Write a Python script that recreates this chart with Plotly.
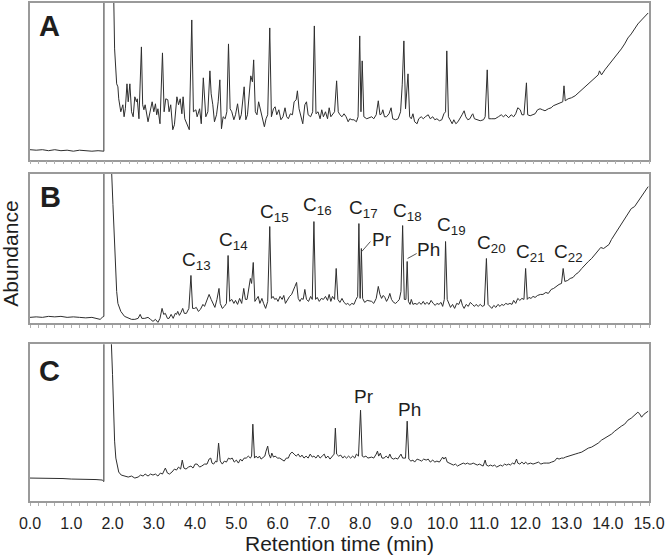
import plotly.graph_objects as go

# Chromatogram traces: (retention time in min, abundance in arbitrary units)
trace_A = [
    (0.00, 10), (0.15, 9.5), (0.30, 10), (0.45, 9), (0.60, 10), (0.75, 9), (0.90, 9.5), (1.05, 8.5),
    (1.20, 9.5), (1.35, 9), (1.50, 8.5), (1.65, 9), (1.79, 8.5),
    (1.80, 900), (2.00, 900), (2.03, 160), (2.05, 111), (2.10, 76), (2.13, 73), (2.15, 61), (2.20, 48),
    (2.25, 55), (2.28, 43), (2.31, 51), (2.35, 76), (2.38, 58), (2.42, 76), (2.46, 48), (2.50, 43),
    (2.54, 63), (2.58, 58), (2.60, 61), (2.64, 41), (2.70, 113), (2.73, 55), (2.76, 50), (2.79, 55),
    (2.86, 38), (2.91, 48), (2.96, 58), (3.00, 48), (3.04, 56), (3.07, 45), (3.10, 51), (3.15, 36),
    (3.21, 107), (3.25, 48), (3.29, 61), (3.34, 60), (3.37, 48), (3.41, 55), (3.46, 30), (3.50, 35),
    (3.56, 63), (3.60, 55), (3.64, 61), (3.68, 46), (3.71, 63), (3.75, 41), (3.81, 35), (3.86, 30),
    (3.92, 140), (3.96, 48), (4.02, 50), (4.05, 43), (4.11, 51), (4.15, 36), (4.20, 82), (4.26, 43),
    (4.31, 48), (4.36, 89), (4.39, 66), (4.43, 55), (4.47, 38), (4.52, 45), (4.56, 58), (4.60, 80),
    (4.64, 31), (4.68, 43), (4.73, 41), (4.77, 48), (4.81, 116), (4.85, 51), (4.89, 48), (4.94, 40),
    (4.98, 45), (5.03, 56), (5.08, 40), (5.12, 45), (5.19, 73), (5.23, 40), (5.27, 45), (5.32, 76),
    (5.35, 84), (5.39, 78), (5.42, 100), (5.46, 48), (5.50, 45), (5.54, 58), (5.58, 51), (5.63, 41),
    (5.68, 33), (5.72, 41), (5.76, 45), (5.81, 132), (5.85, 43), (5.90, 51), (5.94, 53), (5.98, 45),
    (6.03, 50), (6.08, 40), (6.13, 43), (6.18, 52), (6.22, 43), (6.26, 41), (6.31, 46), (6.36, 45),
    (6.40, 58), (6.45, 60), (6.48, 69), (6.52, 51), (6.56, 43), (6.61, 36), (6.66, 55), (6.70, 58),
    (6.74, 45), (6.80, 43), (6.85, 48), (6.89, 134), (6.93, 46), (6.98, 48), (7.03, 41), (7.07, 50),
    (7.11, 43), (7.16, 48), (7.21, 41), (7.25, 52), (7.29, 43), (7.33, 45), (7.38, 48), (7.43, 79),
    (7.47, 48), (7.51, 45), (7.56, 43), (7.61, 46), (7.66, 43), (7.71, 38), (7.75, 41), (7.80, 40),
    (7.85, 40), (7.91, 38), (7.95, 43), (7.99, 124), (8.02, 48), (8.05, 99), (8.09, 43), (8.16, 41),
    (8.28, 43), (8.33, 41), (8.39, 45), (8.44, 59), (8.48, 45), (8.52, 46), (8.55, 50), (8.59, 43),
    (8.64, 43), (8.70, 46), (8.75, 52), (8.79, 41), (8.86, 40), (8.92, 41), (8.98, 48), (9.02, 75),
    (9.06, 119), (9.10, 51), (9.16, 86), (9.20, 43), (9.24, 41), (9.28, 46), (9.32, 38), (9.38, 36),
    (9.42, 41), (9.48, 43), (9.53, 41), (9.58, 43), (9.65, 45), (9.70, 41), (9.76, 43), (9.81, 40),
    (9.86, 41), (9.92, 39), (9.98, 40), (10.03, 46), (10.07, 48), (10.10, 109), (10.14, 43), (10.18, 40),
    (10.23, 36), (10.27, 40), (10.32, 36), (10.37, 38), (10.42, 41), (10.47, 45), (10.52, 49), (10.56, 43),
    (10.61, 40), (10.66, 41), (10.71, 45), (10.73, 46), (10.77, 41), (10.84, 40), (10.91, 39), (10.99, 40),
    (11.03, 43), (11.08, 90), (11.12, 41), (11.19, 41), (11.27, 41), (11.35, 43), (11.42, 45), (11.47, 43),
    (11.53, 45), (11.60, 42), (11.66, 45), (11.72, 43), (11.77, 46), (11.82, 52), (11.88, 50), (11.92, 45),
    (11.97, 45), (12.03, 77), (12.06, 45), (12.12, 44), (12.17, 45), (12.24, 46), (12.30, 50), (12.36, 51),
    (12.42, 50), (12.48, 49), (12.56, 51), (12.63, 52), (12.68, 54), (12.74, 55), (12.80, 56), (12.87, 57),
    (12.91, 58), (12.94, 74), (12.97, 59), (13.04, 61), (13.12, 62), (13.21, 64), (13.29, 67), (13.37, 70),
    (13.45, 72), (13.53, 75), (13.61, 78), (13.69, 82), (13.77, 85), (13.80, 89), (13.85, 85), (13.93, 90),
    (14.01, 94), (14.09, 99), (14.17, 102), (14.25, 106), (14.33, 111), (14.41, 116), (14.49, 122),
    (14.57, 126), (14.65, 131), (14.73, 136), (14.82, 140), (14.90, 144), (14.98, 147),
]

trace_B = [
    (0.00, 6), (0.15, 6.5), (0.30, 6), (0.45, 7), (0.60, 6.5), (0.75, 7), (0.90, 6), (1.05, 6.5),
    (1.20, 6), (1.35, 5.5), (1.50, 6), (1.60, 5), (1.70, 4), (1.75, 6), (1.79, 7),
    (1.80, 900), (1.95, 900), (1.97, 160), (2.01, 119), (2.04, 85), (2.07, 52), (2.10, 32), (2.13, 20),
    (2.20, 12), (2.29, 7), (2.46, 4), (2.54, 4), (2.62, 5), (2.67, 9), (2.71, 5), (2.78, 5), (2.86, 6),
    (2.92, 4), (2.98, 2), (3.04, 4), (3.10, 1), (3.15, 5), (3.20, 15), (3.24, 9), (3.28, 10), (3.33, 5),
    (3.37, 5), (3.42, 9), (3.47, 5), (3.52, 10), (3.55, 9), (3.58, 12), (3.62, 8), (3.66, 11), (3.70, 15),
    (3.74, 10), (3.79, 10), (3.85, 15), (3.90, 48), (3.94, 15), (3.99, 15), (4.03, 16), (4.08, 12),
    (4.13, 14), (4.19, 19), (4.23, 17), (4.28, 22), (4.34, 29), (4.39, 24), (4.44, 19), (4.48, 16),
    (4.53, 24), (4.58, 35), (4.61, 20), (4.66, 15), (4.71, 17), (4.76, 20), (4.80, 68), (4.84, 22),
    (4.89, 24), (4.94, 20), (4.98, 23), (5.03, 19), (5.08, 25), (5.13, 20), (5.18, 35), (5.22, 24),
    (5.26, 24), (5.31, 37), (5.34, 45), (5.37, 40), (5.41, 61), (5.45, 22), (5.49, 25), (5.53, 27),
    (5.57, 20), (5.62, 25), (5.66, 20), (5.71, 15), (5.76, 22), (5.81, 97), (5.85, 25), (5.89, 27),
    (5.93, 24), (5.97, 25), (6.01, 22), (6.06, 27), (6.11, 24), (6.15, 28), (6.19, 20), (6.24, 24),
    (6.29, 27), (6.34, 29), (6.38, 34), (6.42, 37), (6.46, 41), (6.50, 25), (6.54, 22), (6.58, 25),
    (6.62, 24), (6.66, 34), (6.70, 24), (6.75, 22), (6.80, 27), (6.84, 24), (6.88, 102), (6.92, 24),
    (6.96, 26), (7.01, 22), (7.06, 25), (7.11, 24), (7.16, 27), (7.21, 23), (7.25, 29), (7.29, 22),
    (7.33, 27), (7.38, 24), (7.42, 55), (7.46, 24), (7.51, 21), (7.56, 25), (7.61, 21), (7.66, 19),
    (7.70, 20), (7.75, 18), (7.80, 20), (7.85, 19), (7.90, 24), (7.94, 27), (7.97, 100), (8.00, 25),
    (8.03, 75), (8.06, 25), (8.11, 21), (8.17, 23),
    (8.28, 22), (8.33, 20), (8.39, 25), (8.44, 37), (8.48, 29), (8.52, 25), (8.56, 28), (8.60, 26),
    (8.64, 22), (8.68, 25), (8.72, 30), (8.76, 24), (8.81, 21), (8.86, 20), (8.91, 22), (8.95, 24),
    (8.99, 32), (9.03, 98), (9.07, 24), (9.11, 24), (9.14, 62), (9.17, 22), (9.21, 19), (9.24, 24),
    (9.28, 19), (9.33, 20), (9.38, 19), (9.43, 21), (9.48, 19), (9.53, 22), (9.57, 19), (9.62, 21),
    (9.67, 19), (9.72, 23), (9.77, 20), (9.82, 18), (9.86, 20), (9.91, 19), (9.96, 21), (10.00, 17),
    (10.04, 24), (10.07, 82), (10.11, 24), (10.15, 20), (10.19, 16), (10.24, 19), (10.29, 15), (10.34, 20),
    (10.39, 19), (10.44, 24), (10.48, 18), (10.52, 15), (10.57, 19), (10.62, 17), (10.67, 21), (10.72, 19),
    (10.77, 17), (10.81, 19), (10.86, 17), (10.91, 19), (10.96, 17), (11.01, 18), (11.06, 65), (11.10, 19),
    (11.14, 17), (11.19, 15), (11.24, 18), (11.29, 16), (11.34, 19), (11.39, 17), (11.43, 19), (11.48, 18),
    (11.53, 20), (11.58, 19), (11.63, 20), (11.68, 19), (11.72, 23), (11.77, 20), (11.82, 25), (11.87, 23),
    (11.92, 25), (11.97, 24), (12.01, 55), (12.05, 24), (12.09, 26), (12.14, 25), (12.19, 27), (12.24, 26),
    (12.30, 28), (12.37, 29), (12.43, 29), (12.50, 31), (12.56, 30), (12.63, 34), (12.69, 35), (12.75, 37),
    (12.82, 39), (12.88, 40), (12.92, 55), (12.96, 42), (13.03, 43), (13.09, 45), (13.16, 46), (13.22, 49),
    (13.29, 51), (13.37, 55), (13.45, 59), (13.53, 62), (13.61, 65), (13.69, 69), (13.77, 73), (13.83, 76),
    (13.90, 75), (13.96, 77), (14.03, 79), (14.09, 84), (14.17, 89), (14.25, 94), (14.33, 99), (14.41, 104),
    (14.49, 109), (14.57, 115), (14.65, 117), (14.73, 122), (14.82, 127), (14.90, 132), (14.98, 137),
]

trace_C = [
    (0.00, 23), (0.20, 23), (0.40, 22.5), (0.60, 23), (0.80, 22.5), (1.00, 22), (1.20, 22), (1.40, 21.5),
    (1.60, 21.5), (1.75, 21), (1.79, 19.5),
    (1.80, 900), (1.95, 900), (1.97, 160), (2.00, 127), (2.02, 93), (2.05, 60), (2.08, 43), (2.11, 35),
    (2.15, 29), (2.21, 26), (2.29, 25), (2.38, 24), (2.46, 25), (2.54, 23), (2.62, 24), (2.68, 26),
    (2.74, 25), (2.79, 27), (2.86, 25), (2.92, 27), (2.98, 26), (3.04, 27), (3.10, 25), (3.16, 28),
    (3.21, 27), (3.28, 33), (3.33, 28), (3.38, 27), (3.44, 29), (3.50, 32), (3.55, 31), (3.60, 34),
    (3.65, 32), (3.69, 41), (3.73, 33), (3.78, 32), (3.84, 34), (3.90, 35), (3.95, 33), (4.00, 37),
    (4.05, 37), (4.11, 34), (4.16, 35), (4.23, 37), (4.29, 37), (4.34, 42), (4.38, 43), (4.41, 38),
    (4.45, 37), (4.50, 40), (4.53, 39), (4.57, 58), (4.61, 40), (4.66, 37), (4.71, 40), (4.76, 39),
    (4.81, 43), (4.85, 42), (4.90, 43), (4.95, 39), (5.00, 41), (5.05, 38), (5.10, 42), (5.14, 40),
    (5.19, 43), (5.24, 43), (5.29, 45), (5.34, 43), (5.37, 45), (5.40, 77), (5.44, 43), (5.48, 45),
    (5.52, 43), (5.56, 45), (5.60, 42), (5.64, 43), (5.69, 45), (5.72, 50), (5.76, 55), (5.79, 47),
    (5.83, 43), (5.86, 48), (5.90, 44), (5.94, 45), (6.00, 43), (6.05, 43), (6.09, 42), (6.16, 40),
    (6.21, 43), (6.26, 43), (6.30, 47), (6.35, 49), (6.40, 47), (6.45, 45), (6.50, 47), (6.55, 44),
    (6.59, 46), (6.64, 43), (6.69, 45), (6.74, 43), (6.79, 47), (6.84, 44), (6.88, 45), (6.93, 43),
    (6.98, 46), (7.03, 43), (7.08, 45), (7.13, 47), (7.17, 43), (7.22, 45), (7.27, 42), (7.32, 44),
    (7.37, 47), (7.40, 73), (7.43, 47), (7.48, 45), (7.53, 46), (7.58, 43), (7.62, 45), (7.67, 43),
    (7.72, 45), (7.77, 43), (7.82, 45), (7.87, 43), (7.91, 47), (7.96, 45), (8.01, 91), (8.05, 45),
    (8.09, 44), (8.14, 45), (8.19, 43),
    (8.28, 44), (8.33, 43), (8.39, 47), (8.42, 50), (8.45, 45), (8.49, 48), (8.53, 43), (8.58, 43),
    (8.63, 45), (8.68, 43), (8.72, 47), (8.76, 43), (8.81, 42), (8.86, 43), (8.91, 42), (8.95, 44),
    (8.99, 47), (9.03, 43), (9.06, 43), (9.10, 43), (9.14, 80), (9.18, 42), (9.23, 40), (9.28, 41),
    (9.32, 39), (9.38, 42), (9.44, 41), (9.49, 40), (9.54, 42), (9.60, 41), (9.65, 42), (9.70, 39),
    (9.76, 41), (9.81, 39), (9.86, 40), (9.92, 39), (9.97, 42), (10.00, 44), (10.03, 42), (10.07, 44),
    (10.11, 39), (10.16, 38), (10.21, 37), (10.26, 36), (10.31, 37), (10.36, 35), (10.40, 36), (10.45, 37),
    (10.50, 38), (10.55, 37), (10.60, 38), (10.64, 37), (10.69, 37), (10.74, 38), (10.79, 37), (10.84, 36),
    (10.89, 37), (10.93, 36), (10.98, 35), (11.03, 41), (11.06, 36), (11.11, 35), (11.16, 36), (11.21, 35),
    (11.26, 36), (11.31, 34), (11.35, 35), (11.40, 36), (11.45, 35), (11.50, 37), (11.55, 36), (11.60, 37),
    (11.64, 36), (11.69, 38), (11.74, 37), (11.79, 42), (11.82, 38), (11.87, 37), (11.92, 39), (11.97, 37),
    (12.01, 39), (12.06, 37), (12.13, 38), (12.19, 37), (12.26, 38), (12.32, 39), (12.38, 37), (12.45, 38),
    (12.51, 38), (12.58, 38), (12.64, 39), (12.71, 40), (12.77, 43), (12.82, 42), (12.88, 43), (12.93, 43),
    (12.98, 44), (13.04, 45), (13.12, 46), (13.21, 47), (13.29, 48), (13.37, 49), (13.45, 51), (13.53, 53),
    (13.61, 54), (13.69, 56), (13.77, 58), (13.85, 61), (13.93, 63), (14.01, 65), (14.09, 67), (14.17, 70),
    (14.25, 73), (14.33, 75), (14.41, 77), (14.49, 81), (14.57, 83), (14.65, 86), (14.73, 89), (14.78, 87),
    (14.82, 84), (14.88, 87), (14.98, 90),
]

panel_letters = ["A", "B", "C"]
x_ticks = [0, 1, 2, 3, 4, 5, 6, 7, 8, 9, 10, 11, 12, 13, 14, 15]

# Peak labels in panel B: (text, time, abundance)
labels_B = [
    ("C<sub>13</sub>", 4.03, 62), ("C<sub>14</sub>", 4.92, 83), ("C<sub>15</sub>", 5.93, 111),
    ("C<sub>16</sub>", 6.96, 118), ("C<sub>17</sub>", 8.09, 115), ("Pr", 8.54, 84),
    ("C<sub>18</sub>", 9.14, 112), ("Ph", 9.66, 74), ("C<sub>19</sub>", 10.21, 98),
    ("C<sub>20</sub>", 11.18, 80), ("C<sub>21</sub>", 12.13, 71), ("C<sub>22</sub>", 13.06, 71),
]
labels_C = [("Pr", 8.09, 105), ("Ph", 9.20, 92)]
leaders_B = [((8.04, 72), (8.25, 82)), ((9.15, 65), (9.37, 70))]

FONT = "Arial, Liberation Sans, sans-serif"
LINE = "#2e2e2e"
BORDER = "#9a9a9a"
TEXT = "#1e1e1e"

fig = go.Figure()
traces = [trace_A, trace_B, trace_C]
suffix = ["", "2", "3"]
for pts, s in zip(traces, suffix):
    fig.add_trace(go.Scatter(
        x=[p[0] for p in pts], y=[p[1] for p in pts], mode="lines",
        line=dict(color=LINE, width=1), xaxis="x" + s, yaxis="y" + s,
        showlegend=False, hoverinfo="skip"))

domains = [[0.6854, 1.0], [0.3567, 0.6573], [0.0, 0.3146]]
yranges = [[0, 157], [0, 150], [0, 157]]

layout = dict(
    width=666, height=557, paper_bgcolor="white", plot_bgcolor="white",
    margin=dict(l=30, r=15, t=1, b=56),
    font=dict(family=FONT, color=TEXT),
    showlegend=False,
)
for i, s in enumerate(suffix):
    xa = dict(
        domain=[0, 1], range=[0, 15], anchor="y" + s, showgrid=False, zeroline=False,
        showline=True, mirror=True, linecolor=BORDER, linewidth=1.5,
        ticks="outside", ticklen=3, tickwidth=1, tickcolor="#b0b0b0",
        tickvals=x_ticks, tickformat=".1f", ticklabelstandoff=4, ticklabeloverflow="allow",
        minor=dict(dtick=0.2, tick0=0, ticks="outside", ticklen=3, tickwidth=1, tickcolor="#b0b0b0"),
        showticklabels=(i == 2), tickfont=dict(size=16, color=TEXT, family=FONT),
    )
    if i == 2:
        xa["title"] = dict(text="Retention time (min)", font=dict(size=21, color=TEXT, family=FONT), standoff=4)
    ya = dict(
        domain=domains[i], range=yranges[i], anchor="x" + s, showgrid=False, zeroline=False,
        showline=True, mirror=True, linecolor=BORDER, linewidth=1.5,
        ticks="", showticklabels=False,
    )
    layout["xaxis" + s] = xa
    layout["yaxis" + s] = ya

annotations = []
letter_pos = [(0.47, 134), (0.50, 127), (0.47, 130)]
for letter, (tx, hy), s in zip(panel_letters, letter_pos, suffix):
    annotations.append(dict(text=letter, x=tx, y=hy, xref="x" + s, yref="y" + s, showarrow=False,
                            xanchor="center", yanchor="middle",
                            font=dict(size=29, family=FONT, color=TEXT, weight="bold")))
for txt, tx, hy in labels_B:
    annotations.append(dict(text=txt, x=tx, y=hy, xref="x2", yref="y2", showarrow=False,
                            xanchor="center", yanchor="middle", font=dict(size=19, family=FONT, color=TEXT)))
for txt, tx, hy in labels_C:
    annotations.append(dict(text=txt, x=tx, y=hy, xref="x3", yref="y3", showarrow=False,
                            xanchor="center", yanchor="middle", font=dict(size=19, family=FONT, color=TEXT)))
annotations.append(dict(text="Abundance", x=-0.032, y=0.497, xref="paper", yref="paper", showarrow=False,
                        textangle=-90, xanchor="center", yanchor="middle",
                        font=dict(size=21, family=FONT, color=TEXT)))
layout["annotations"] = annotations

shapes = []
for (a, b) in leaders_B:
    shapes.append(dict(type="line", xref="x2", yref="y2", x0=a[0], y0=a[1], x1=b[0], y1=b[1],
                       line=dict(color="#555555", width=1)))
layout["shapes"] = shapes

fig.update_layout(**layout)
fig.write_html("out.html", config={"displayModeBar": False},
               post_script="document.body.style.margin='0';document.body.style.overflow='hidden';")
